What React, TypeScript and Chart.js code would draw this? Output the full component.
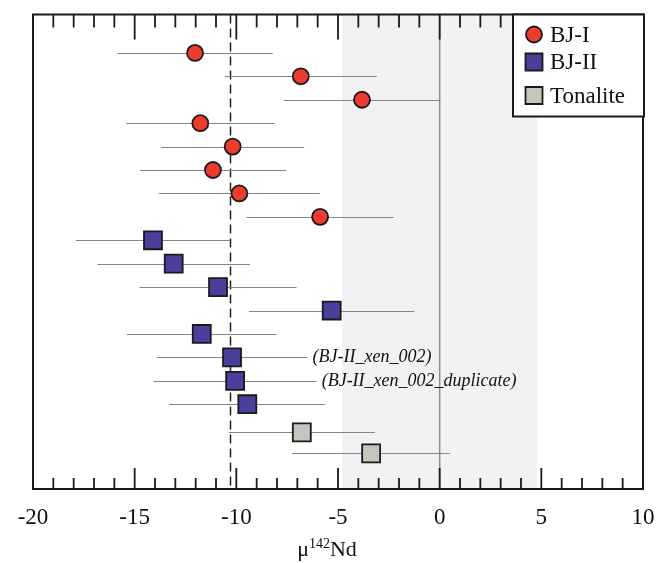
import React, { useEffect, useRef } from 'react';
import { Chart, registerables } from 'chart.js';

Chart.register(...registerables);

// ---------- data ----------
const bjiRows = [1, 2, 3, 4, 5, 6, 7, 8];
const bjiValues = [-12.03, -6.83, -3.82, -11.77, -10.18, -11.15, -9.85, -5.88];
const bjiErrors = [3.82, 3.74, 3.84, 3.65, 3.52, 3.6, 3.96, 3.62];

const bjiiRows = [9, 10, 11, 12, 13, 14, 15, 16];
const bjiiValues = [-14.1, -13.08, -10.9, -5.31, -11.7, -10.21, -10.06, -9.46];
const bjiiErrors = [3.78, 3.75, 3.86, 4.07, 3.68, 3.71, 4.01, 3.83];

const tonRows = [17.2, 18.1];
const tonValues = [-6.78, -3.37];
const tonErrors = [3.59, 3.89];

const noteRows = [14, 15];
const noteValues = [-10.21, -10.06];
const noteErrors = [3.71, 4.01];
const noteTexts = ['(BJ-II_xen_002)', '(BJ-II_xen_002_duplicate)'];

const xMin = -20;
const xMax = 10;
const majorTicks = [-20, -15, -10, -5, 0, 5, 10];
const minorTicks = [
  -19, -18, -17, -16, -14, -13, -12, -11, -9, -8, -7, -6, -4, -3, -2, -1, 1, 2, 3, 4, 6, 7, 8, 9,
];
const dashedRef = -10.3;
const zeroRef = 0;
const bandLow = -4.8;
const bandHigh = 4.8;
const yMin = -0.64;
const yMax = 19.62;

const seriesNames = ['BJ-I', 'BJ-II', 'Tonalite'];
const seriesColors = ['#EE3B2F', '#4B3F9C', '#C4C5BC'];
const seriesStyles = ['circle', 'rect', 'rect'];

const SERIF = "'Liberation Serif', 'Times New Roman', serif";

const groups = [
  { rows: bjiRows, values: bjiValues, errors: bjiErrors },
  { rows: bjiiRows, values: bjiiValues, errors: bjiiErrors },
  { rows: tonRows, values: tonValues, errors: tonErrors },
];

const customPlugin = {
  id: 'customDecor',
  beforeDatasetsDraw(chart: any) {
    const { ctx, chartArea: a, scales } = chart;
    const x = scales.x;
    const y = scales.y;
    ctx.save();
    // shaded band
    const b0 = x.getPixelForValue(bandLow);
    const b1 = x.getPixelForValue(bandHigh);
    ctx.fillStyle = '#F2F2F4';
    ctx.fillRect(b0, a.top, b1 - b0, a.bottom - a.top);
    // zero line
    const z = x.getPixelForValue(zeroRef);
    ctx.strokeStyle = '#8f8f8f';
    ctx.lineWidth = 1.5;
    ctx.beginPath();
    ctx.moveTo(z, a.top);
    ctx.lineTo(z, a.bottom);
    ctx.stroke();
    // dashed reference
    const d = Math.round(x.getPixelForValue(dashedRef)) + 0.5;
    ctx.strokeStyle = '#222';
    ctx.lineWidth = 1.5;
    ctx.setLineDash([9, 5]);
    ctx.beginPath();
    ctx.moveTo(d, a.top);
    ctx.lineTo(d, a.bottom);
    ctx.stroke();
    ctx.setLineDash([]);
    // error bars
    ctx.strokeStyle = '#858585';
    ctx.lineWidth = 1.1;
    groups.forEach((g) => {
      g.rows.forEach((r, i) => {
        const py = Math.round(y.getPixelForValue(r)) + 0.5;
        ctx.beginPath();
        ctx.moveTo(x.getPixelForValue(g.values[i] - g.errors[i]), py);
        ctx.lineTo(x.getPixelForValue(g.values[i] + g.errors[i]), py);
        ctx.stroke();
      });
    });
    // notes
    ctx.fillStyle = '#111';
    ctx.font = `italic 18px ${SERIF}`;
    ctx.textBaseline = 'middle';
    ctx.textAlign = 'left';
    noteRows.forEach((r, i) => {
      const px = x.getPixelForValue(noteValues[i] + noteErrors[i]) + 5;
      ctx.fillText(noteTexts[i], px, y.getPixelForValue(r));
    });
    ctx.restore();
  },
  afterDraw(chart: any) {
    const { ctx, chartArea: a, scales } = chart;
    const x = scales.x;
    ctx.save();
    ctx.strokeStyle = '#1a1a1a';
    // ticks
    ctx.lineWidth = 1.8;
    const drawTick = (v: number, lenTop: number, lenBot: number) => {
      const px = x.getPixelForValue(v);
      ctx.beginPath();
      ctx.moveTo(px, a.top);
      ctx.lineTo(px, a.top + lenTop);
      ctx.moveTo(px, a.bottom);
      ctx.lineTo(px, a.bottom - lenBot);
      ctx.stroke();
    };
    minorTicks.forEach((v) => drawTick(v, 13, 11));
    majorTicks.forEach((v) => drawTick(v, 25, 21));
    // frame
    ctx.lineWidth = 2;
    ctx.strokeRect(a.left, a.top, a.right - a.left, a.bottom - a.top);
    // tick labels
    ctx.fillStyle = '#111';
    ctx.font = `23px ${SERIF}`;
    ctx.textAlign = 'center';
    ctx.textBaseline = 'alphabetic';
    majorTicks.forEach((v) => {
      ctx.fillText(String(v), x.getPixelForValue(v), a.bottom + 35);
    });
    // axis title: μ^142 Nd
    const big = `22px ${SERIF}`;
    const small = `14px ${SERIF}`;
    ctx.textAlign = 'left';
    ctx.font = big;
    const wMu = ctx.measureText('μ').width;
    const wNd = ctx.measureText('Nd').width;
    ctx.font = small;
    const wSup = ctx.measureText('142').width;
    const total = wMu + wSup + wNd;
    const cx = (a.left + a.right) / 2 - 11;
    let tx = cx - total / 2;
    const base = a.bottom + 67;
    ctx.font = big;
    ctx.fillText('μ', tx, base);
    tx += wMu;
    ctx.font = small;
    ctx.fillText('142', tx, base - 8);
    tx += wSup;
    ctx.font = big;
    ctx.fillText('Nd', tx, base);
    // legend
    const L = a.right - 130;
    const T = a.top;
    const W = 131;
    const H = 102;
    ctx.fillStyle = '#fff';
    ctx.fillRect(L, T, W, H);
    ctx.lineWidth = 2;
    ctx.strokeStyle = '#1a1a1a';
    ctx.strokeRect(L, T, W, H);
    const itemY = [20, 47.5, 81];
    seriesNames.forEach((name, i) => {
      const mx = L + 21;
      const my = T + itemY[i];
      ctx.fillStyle = seriesColors[i];
      ctx.lineWidth = 1.8;
      ctx.strokeStyle = '#1a1a1a';
      ctx.beginPath();
      if (seriesStyles[i] === 'circle') {
        ctx.arc(mx, my, 8, 0, Math.PI * 2);
      } else {
        ctx.rect(mx - 8.5, my - 8.5, 17, 17);
      }
      ctx.fill();
      ctx.stroke();
      ctx.fillStyle = '#111';
      ctx.font = `23px ${SERIF}`;
      ctx.textBaseline = 'middle';
      ctx.fillText(name, L + 37, my + 1);
    });
    ctx.restore();
  },
};

export default function App() {
  const ref = useRef<HTMLCanvasElement | null>(null);

  useEffect(() => {
    if (!ref.current) return;
    const chart = new Chart(ref.current, {
      type: 'scatter',
      data: {
        datasets: groups.map((g, gi) => ({
          label: seriesNames[gi],
          data: g.rows.map((r, i) => ({ x: g.values[i], y: r })),
          pointStyle: seriesStyles[gi] as any,
          pointRadius: seriesStyles[gi] === 'circle' ? 8 : 12.7,
          pointHoverRadius: seriesStyles[gi] === 'circle' ? 8 : 12.7,
          backgroundColor: seriesColors[gi],
          borderColor: '#1a1a1a',
          borderWidth: 1.8,
          pointBorderWidth: 1.8,
          showLine: false,
        })),
      },
      options: {
        responsive: false,
        animation: false,
        events: [],
        layout: { padding: { left: 33, right: 22, top: 13, bottom: 74 } },
        plugins: { legend: { display: false }, tooltip: { enabled: false } },
        scales: {
          x: { type: 'linear', min: xMin, max: xMax, display: false },
          y: { type: 'linear', min: yMin, max: yMax, reverse: true, display: false },
        },
      },
      plugins: [customPlugin],
    });
    return () => chart.destroy();
  }, []);

  return (
    <div style={{ position: 'absolute', left: 0, top: 0, width: 665, height: 563, background: '#fff' }}>
      <canvas ref={ref} width={665} height={563} style={{ display: 'block', width: 665, height: 563 }} />
    </div>
  );
}
